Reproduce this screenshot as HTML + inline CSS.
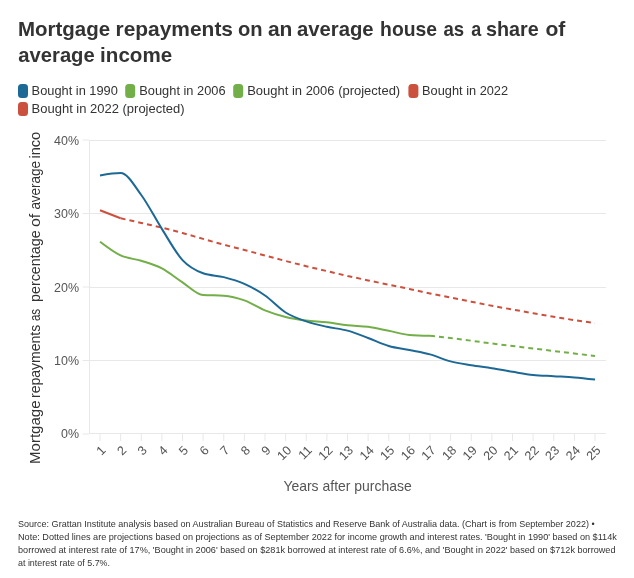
<!DOCTYPE html>
<html><head><meta charset="utf-8"><title>Mortgage repayments</title>
<style>html,body{margin:0;padding:0;background:#fff}svg{display:block;will-change:transform;transform:translateZ(0)}text{font-family:"Liberation Sans",sans-serif}</style></head><body>
<svg width="634" height="578" viewBox="0 0 634 578">
<rect width="634" height="578" fill="#fff"/>
<text x="18.0" y="36.0" font-size="20.4" fill="#333" textLength="92.1" lengthAdjust="spacingAndGlyphs" font-weight="bold">Mortgage</text>
<text x="115.5" y="36.0" font-size="20.4" fill="#333" textLength="117.5" lengthAdjust="spacingAndGlyphs" font-weight="bold">repayments</text>
<text x="238.0" y="36.0" font-size="20.4" fill="#333" textLength="24.6" lengthAdjust="spacingAndGlyphs" font-weight="bold">on</text>
<text x="267.9" y="36.0" font-size="20.4" fill="#333" textLength="24.5" lengthAdjust="spacingAndGlyphs" font-weight="bold">an</text>
<text x="296.9" y="36.0" font-size="20.4" fill="#333" textLength="76.7" lengthAdjust="spacingAndGlyphs" font-weight="bold">average</text>
<text x="380.1" y="36.0" font-size="20.4" fill="#333" textLength="57.0" lengthAdjust="spacingAndGlyphs" font-weight="bold">house</text>
<text x="443.4" y="36.0" font-size="20.4" fill="#333" textLength="20.7" lengthAdjust="spacingAndGlyphs" font-weight="bold">as</text>
<text x="471.2" y="36.0" font-size="20.4" fill="#333" textLength="10.0" lengthAdjust="spacingAndGlyphs" font-weight="bold">a</text>
<text x="486.0" y="36.0" font-size="20.4" fill="#333" textLength="52.7" lengthAdjust="spacingAndGlyphs" font-weight="bold">share</text>
<text x="545.4" y="36.0" font-size="20.4" fill="#333" textLength="19.9" lengthAdjust="spacingAndGlyphs" font-weight="bold">of</text>
<text x="18.3" y="62.0" font-size="20.4" fill="#333" textLength="76.4" lengthAdjust="spacingAndGlyphs" font-weight="bold">average</text>
<text x="100.1" y="62.0" font-size="20.4" fill="#333" textLength="72.1" lengthAdjust="spacingAndGlyphs" font-weight="bold">income</text>
<rect x="18.0" y="84.0" width="10" height="14" rx="3.5" ry="3.5" fill="#1d6996"/>
<text x="31.6" y="95.3" font-size="12.8" fill="#333" textLength="86.3" lengthAdjust="spacingAndGlyphs">Bought in 1990</text>
<rect x="125.2" y="84.0" width="10" height="14" rx="3.5" ry="3.5" fill="#73af48"/>
<text x="139.3" y="95.3" font-size="12.8" fill="#333" textLength="86.3" lengthAdjust="spacingAndGlyphs">Bought in 2006</text>
<rect x="233.2" y="84.0" width="10" height="14" rx="3.5" ry="3.5" fill="#73af48"/>
<text x="247.2" y="95.3" font-size="12.8" fill="#333" textLength="153.0" lengthAdjust="spacingAndGlyphs">Bought in 2006 (projected)</text>
<rect x="408.4" y="84.0" width="10" height="14" rx="3.5" ry="3.5" fill="#cc503e"/>
<text x="422.1" y="95.3" font-size="12.8" fill="#333" textLength="86.0" lengthAdjust="spacingAndGlyphs">Bought in 2022</text>
<rect x="18.0" y="102.0" width="10" height="14" rx="3.5" ry="3.5" fill="#cc503e"/>
<text x="31.6" y="113.3" font-size="12.8" fill="#333" textLength="153.0" lengthAdjust="spacingAndGlyphs">Bought in 2022 (projected)</text>
<line x1="89" x2="606" y1="140.50" y2="140.50" stroke="#e8e8e8" stroke-width="1"/>
<line x1="82.5" x2="89" y1="140.00" y2="140.00" stroke="#e8e8e8" stroke-width="1"/>
<text x="79.0" y="144.9" font-size="12.8" fill="#555" textLength="25.0" lengthAdjust="spacingAndGlyphs" text-anchor="end">40%</text>
<line x1="89" x2="606" y1="213.50" y2="213.50" stroke="#e8e8e8" stroke-width="1"/>
<line x1="82.5" x2="89" y1="213.50" y2="213.50" stroke="#e8e8e8" stroke-width="1"/>
<text x="79.0" y="217.9" font-size="12.8" fill="#555" textLength="25.0" lengthAdjust="spacingAndGlyphs" text-anchor="end">30%</text>
<line x1="89" x2="606" y1="287.50" y2="287.50" stroke="#e8e8e8" stroke-width="1"/>
<line x1="82.5" x2="89" y1="287.00" y2="287.00" stroke="#e8e8e8" stroke-width="1"/>
<text x="79.0" y="291.9" font-size="12.8" fill="#555" textLength="25.0" lengthAdjust="spacingAndGlyphs" text-anchor="end">20%</text>
<line x1="89" x2="606" y1="360.50" y2="360.50" stroke="#e8e8e8" stroke-width="1"/>
<line x1="82.5" x2="89" y1="360.50" y2="360.50" stroke="#e8e8e8" stroke-width="1"/>
<text x="79.0" y="364.9" font-size="12.8" fill="#555" textLength="25.0" lengthAdjust="spacingAndGlyphs" text-anchor="end">10%</text>
<line x1="89" x2="606" y1="433.50" y2="433.50" stroke="#e8e8e8" stroke-width="1"/>
<line x1="82.5" x2="89" y1="434.00" y2="434.00" stroke="#e8e8e8" stroke-width="1"/>
<text x="79.0" y="437.9" font-size="12.8" fill="#555" textLength="18.0" lengthAdjust="spacingAndGlyphs" text-anchor="end">0%</text>
<line x1="89.5" x2="89.5" y1="140" y2="434" stroke="#e8e8e8" stroke-width="1"/>
<line x1="100.00" x2="100.00" y1="434" y2="441" stroke="#e8e8e8" stroke-width="1"/>
<text transform="translate(106.50,451.0) rotate(-45)" text-anchor="end" font-size="12.6" fill="#555">1</text>
<line x1="120.62" x2="120.62" y1="434" y2="441" stroke="#e8e8e8" stroke-width="1"/>
<text transform="translate(127.12,451.0) rotate(-45)" text-anchor="end" font-size="12.6" fill="#555">2</text>
<line x1="141.25" x2="141.25" y1="434" y2="441" stroke="#e8e8e8" stroke-width="1"/>
<text transform="translate(147.75,451.0) rotate(-45)" text-anchor="end" font-size="12.6" fill="#555">3</text>
<line x1="161.88" x2="161.88" y1="434" y2="441" stroke="#e8e8e8" stroke-width="1"/>
<text transform="translate(168.38,451.0) rotate(-45)" text-anchor="end" font-size="12.6" fill="#555">4</text>
<line x1="182.50" x2="182.50" y1="434" y2="441" stroke="#e8e8e8" stroke-width="1"/>
<text transform="translate(189.00,451.0) rotate(-45)" text-anchor="end" font-size="12.6" fill="#555">5</text>
<line x1="203.12" x2="203.12" y1="434" y2="441" stroke="#e8e8e8" stroke-width="1"/>
<text transform="translate(209.62,451.0) rotate(-45)" text-anchor="end" font-size="12.6" fill="#555">6</text>
<line x1="223.75" x2="223.75" y1="434" y2="441" stroke="#e8e8e8" stroke-width="1"/>
<text transform="translate(230.25,451.0) rotate(-45)" text-anchor="end" font-size="12.6" fill="#555">7</text>
<line x1="244.38" x2="244.38" y1="434" y2="441" stroke="#e8e8e8" stroke-width="1"/>
<text transform="translate(250.88,451.0) rotate(-45)" text-anchor="end" font-size="12.6" fill="#555">8</text>
<line x1="265.00" x2="265.00" y1="434" y2="441" stroke="#e8e8e8" stroke-width="1"/>
<text transform="translate(271.50,451.0) rotate(-45)" text-anchor="end" font-size="12.6" fill="#555">9</text>
<line x1="285.62" x2="285.62" y1="434" y2="441" stroke="#e8e8e8" stroke-width="1"/>
<text transform="translate(292.12,451.0) rotate(-45)" text-anchor="end" font-size="12.6" fill="#555">10</text>
<line x1="306.25" x2="306.25" y1="434" y2="441" stroke="#e8e8e8" stroke-width="1"/>
<text transform="translate(312.75,451.0) rotate(-45)" text-anchor="end" font-size="12.6" fill="#555">11</text>
<line x1="326.88" x2="326.88" y1="434" y2="441" stroke="#e8e8e8" stroke-width="1"/>
<text transform="translate(333.38,451.0) rotate(-45)" text-anchor="end" font-size="12.6" fill="#555">12</text>
<line x1="347.50" x2="347.50" y1="434" y2="441" stroke="#e8e8e8" stroke-width="1"/>
<text transform="translate(354.00,451.0) rotate(-45)" text-anchor="end" font-size="12.6" fill="#555">13</text>
<line x1="368.12" x2="368.12" y1="434" y2="441" stroke="#e8e8e8" stroke-width="1"/>
<text transform="translate(374.62,451.0) rotate(-45)" text-anchor="end" font-size="12.6" fill="#555">14</text>
<line x1="388.75" x2="388.75" y1="434" y2="441" stroke="#e8e8e8" stroke-width="1"/>
<text transform="translate(395.25,451.0) rotate(-45)" text-anchor="end" font-size="12.6" fill="#555">15</text>
<line x1="409.38" x2="409.38" y1="434" y2="441" stroke="#e8e8e8" stroke-width="1"/>
<text transform="translate(415.88,451.0) rotate(-45)" text-anchor="end" font-size="12.6" fill="#555">16</text>
<line x1="430.00" x2="430.00" y1="434" y2="441" stroke="#e8e8e8" stroke-width="1"/>
<text transform="translate(436.50,451.0) rotate(-45)" text-anchor="end" font-size="12.6" fill="#555">17</text>
<line x1="450.62" x2="450.62" y1="434" y2="441" stroke="#e8e8e8" stroke-width="1"/>
<text transform="translate(457.12,451.0) rotate(-45)" text-anchor="end" font-size="12.6" fill="#555">18</text>
<line x1="471.25" x2="471.25" y1="434" y2="441" stroke="#e8e8e8" stroke-width="1"/>
<text transform="translate(477.75,451.0) rotate(-45)" text-anchor="end" font-size="12.6" fill="#555">19</text>
<line x1="491.88" x2="491.88" y1="434" y2="441" stroke="#e8e8e8" stroke-width="1"/>
<text transform="translate(498.38,451.0) rotate(-45)" text-anchor="end" font-size="12.6" fill="#555">20</text>
<line x1="512.50" x2="512.50" y1="434" y2="441" stroke="#e8e8e8" stroke-width="1"/>
<text transform="translate(519.00,451.0) rotate(-45)" text-anchor="end" font-size="12.6" fill="#555">21</text>
<line x1="533.12" x2="533.12" y1="434" y2="441" stroke="#e8e8e8" stroke-width="1"/>
<text transform="translate(539.62,451.0) rotate(-45)" text-anchor="end" font-size="12.6" fill="#555">22</text>
<line x1="553.75" x2="553.75" y1="434" y2="441" stroke="#e8e8e8" stroke-width="1"/>
<text transform="translate(560.25,451.0) rotate(-45)" text-anchor="end" font-size="12.6" fill="#555">23</text>
<line x1="574.38" x2="574.38" y1="434" y2="441" stroke="#e8e8e8" stroke-width="1"/>
<text transform="translate(580.88,451.0) rotate(-45)" text-anchor="end" font-size="12.6" fill="#555">24</text>
<line x1="595.00" x2="595.00" y1="434" y2="441" stroke="#e8e8e8" stroke-width="1"/>
<text transform="translate(601.50,451.0) rotate(-45)" text-anchor="end" font-size="12.6" fill="#555">25</text>
<clipPath id="cy"><rect x="20" y="131.2" width="30" height="340"/></clipPath>
<g clip-path="url(#cy)">
<text transform="translate(40,463.92) rotate(-90)" font-size="14.8" fill="#333" textLength="63.45" lengthAdjust="spacingAndGlyphs">Mortgage</text>
<text transform="translate(40,398.00) rotate(-90)" font-size="14.8" fill="#333" textLength="73.19" lengthAdjust="spacingAndGlyphs">repayments</text>
<text transform="translate(40,321.12) rotate(-90)" font-size="14.8" fill="#333" textLength="12.28" lengthAdjust="spacingAndGlyphs">as</text>
<text transform="translate(40,302.00) rotate(-90)" font-size="14.8" fill="#333" textLength="71.61" lengthAdjust="spacingAndGlyphs">percentage</text>
<text transform="translate(40,227.04) rotate(-90)" font-size="14.8" fill="#333" textLength="13.28" lengthAdjust="spacingAndGlyphs">of</text>
<text transform="translate(40,209.62) rotate(-90)" font-size="14.8" fill="#333" textLength="48.67" lengthAdjust="spacingAndGlyphs">average</text>
<text transform="translate(40,158.54) rotate(-90)" font-size="14.8" fill="#333" textLength="47.00" lengthAdjust="spacingAndGlyphs">income</text>
</g>
<text x="347.6" y="490.7" font-size="14.6" fill="#555" textLength="128.4" lengthAdjust="spacingAndGlyphs" text-anchor="middle">Years after purchase</text>
<g fill="none" stroke-width="2.0" stroke-linejoin="round">
<path d="M120.62,218.30C127.50,219.82,134.38,221.33,141.25,222.90C148.12,224.47,155.00,226.02,161.88,227.70C168.75,229.38,175.62,231.13,182.50,233.00C189.38,234.87,196.25,236.95,203.12,238.90C210.00,240.85,216.88,242.85,223.75,244.70C230.62,246.55,237.50,248.20,244.38,250.00C251.25,251.80,258.12,253.67,265.00,255.50C271.88,257.33,278.75,259.22,285.62,261.00C292.50,262.78,299.38,264.52,306.25,266.20C313.12,267.88,320.00,269.48,326.88,271.10C333.75,272.72,340.62,274.35,347.50,275.90C354.38,277.45,361.25,278.93,368.12,280.40C375.00,281.87,381.88,283.27,388.75,284.70C395.62,286.13,402.50,287.55,409.38,289.00C416.25,290.45,423.12,291.97,430.00,293.40C436.88,294.83,443.75,296.22,450.62,297.60C457.50,298.98,464.38,300.33,471.25,301.70C478.12,303.07,485.00,304.50,491.88,305.80C498.75,307.10,505.62,308.27,512.50,309.50C519.38,310.73,526.25,311.98,533.12,313.20C540.00,314.42,546.88,315.65,553.75,316.80C560.62,317.95,567.50,319.03,574.38,320.10C581.25,321.17,588.12,322.18,595.00,323.20" stroke="#cc503e" stroke-dasharray="5 4"/>
<path d="M100.00,210.25L120.62,218.30" stroke="#cc503e"/>
<path d="M430.00,335.70C436.88,336.48,443.75,337.27,450.62,338.10C457.50,338.93,464.38,339.80,471.25,340.70C478.12,341.60,485.00,342.62,491.88,343.50C498.75,344.38,505.62,345.17,512.50,346.00C519.38,346.83,526.25,347.67,533.12,348.50C540.00,349.33,546.88,350.17,553.75,351.00C560.62,351.83,567.50,352.68,574.38,353.50C581.25,354.32,588.12,355.11,595.00,355.90" stroke="#73af48" stroke-dasharray="5 4"/>
<path d="M100.00,241.70C106.88,246.96,113.75,252.22,120.62,255.40C127.50,258.58,134.38,258.63,141.25,260.80C148.12,262.97,155.00,264.82,161.88,268.40C168.75,271.98,175.62,277.87,182.50,282.30C189.38,286.73,196.25,294.53,203.12,295.00C210.00,295.47,216.88,295.23,223.75,295.70C230.62,296.17,237.50,297.95,244.38,300.40C251.25,302.85,258.12,307.63,265.00,310.40C271.88,313.17,278.75,315.32,285.62,317.00C292.50,318.68,299.38,319.62,306.25,320.50C313.12,321.38,320.00,321.50,326.88,322.30C333.75,323.10,340.62,324.55,347.50,325.30C354.38,326.05,361.25,325.88,368.12,326.80C375.00,327.72,381.88,329.45,388.75,330.80C395.62,332.15,402.50,334.37,409.38,334.90C416.25,335.43,423.12,335.57,430.00,335.70" stroke="#73af48"/>
<path d="M100.00,175.40C106.88,174.20,113.75,173.00,120.62,173.00C127.50,173.00,134.38,185.68,141.25,195.00C148.12,204.32,155.00,218.05,161.88,228.90C168.75,239.75,175.62,252.70,182.50,260.10C189.38,267.50,196.25,270.77,203.12,273.30C210.00,275.83,216.88,275.33,223.75,277.10C230.62,278.87,237.50,280.83,244.38,283.90C251.25,286.97,258.12,290.73,265.00,295.50C271.88,300.27,278.75,308.18,285.62,312.50C292.50,316.82,299.38,319.02,306.25,321.40C313.12,323.78,320.00,325.27,326.88,326.80C333.75,328.33,340.62,328.73,347.50,330.60C354.38,332.47,361.25,335.43,368.12,338.00C375.00,340.57,381.88,343.98,388.75,346.00C395.62,348.02,402.50,348.70,409.38,350.10C416.25,351.50,423.12,352.52,430.00,354.40C436.88,356.28,443.75,359.60,450.62,361.40C457.50,363.20,464.38,364.07,471.25,365.20C478.12,366.33,485.00,367.10,491.88,368.20C498.75,369.30,505.62,370.67,512.50,371.80C519.38,372.93,526.25,374.27,533.12,375.00C540.00,375.73,546.88,375.80,553.75,376.20C560.62,376.60,567.50,376.83,574.38,377.40C581.25,377.97,588.12,378.78,595.00,379.60" stroke="#1d6996"/>
</g>
<text x="18.0" y="526.6" font-size="9.8" fill="#333" textLength="576.6" lengthAdjust="spacingAndGlyphs">Source: Grattan Institute analysis based on Australian Bureau of Statistics and Reserve Bank of Australia data. (Chart is from September 2022) •</text>
<text x="18.0" y="539.5" font-size="9.8" fill="#333" textLength="598.8" lengthAdjust="spacingAndGlyphs">Note: Dotted lines are projections based on projections as of September 2022 for income growth and interest rates. 'Bought in 1990' based on $114k</text>
<text x="18.0" y="552.5" font-size="9.8" fill="#333" textLength="597.5" lengthAdjust="spacingAndGlyphs">borrowed at interest rate of 17%, 'Bought in 2006' based on $281k borrowed at interest rate of 6.6%, and 'Bought in 2022' based on $712k borrowed</text>
<text x="18.0" y="565.5" font-size="9.8" fill="#333" textLength="92.0" lengthAdjust="spacingAndGlyphs">at interest rate of 5.7%.</text>
</svg></body></html>
